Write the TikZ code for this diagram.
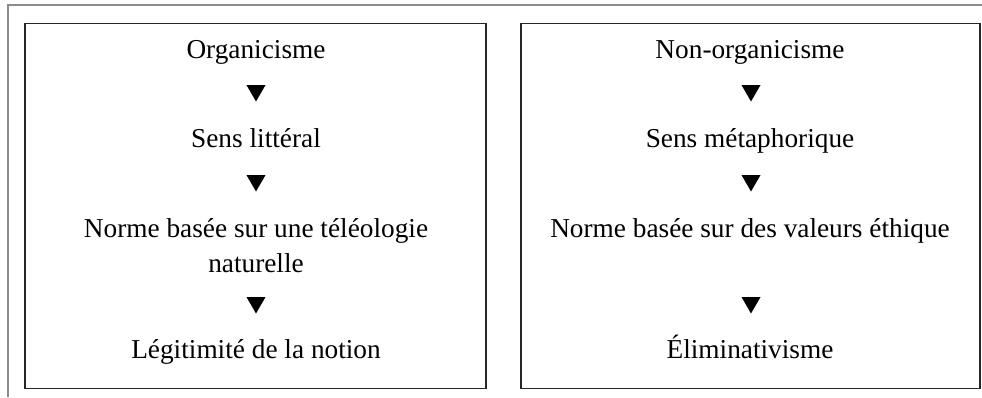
\documentclass[tikz,border=0pt]{standalone}
\usepackage{fontspec}
\setmainfont{Liberation Serif}
\usetikzlibrary{shapes.geometric}
\begin{document}
\begin{tikzpicture}[x=1pt,y=-1pt,
  lbl/.style={anchor=base,inner sep=0pt,font=\fontsize{27.3}{35}\selectfont,align=center},
  tri/.style={regular polygon,regular polygon sides=3,shape border rotate=180,minimum size=22pt,inner sep=0pt,fill=black,draw=none},
  boxline/.style={draw=black!85,line width=1.8pt},
  outer/.style={draw=black!45,line width=1.8pt}]
\useasboundingbox (0,0) rectangle (982,397);
% outer frame lines
\coordinate (oa) at (8,397);
\coordinate (ob) at (8,5);
\coordinate (oc) at (982,5);
\draw[outer] (oa) -- (ob) -- (oc);
% boxes
\node[boxline,minimum width=461pt,minimum height=365pt,inner sep=0pt] (L) at (255.5,206) {};
\node[boxline,minimum width=459pt,minimum height=365pt,inner sep=0pt] (R) at (750.5,206) {};
% left column
\node[lbl] (l1) at (256,58) {Organicisme};
\node[tri] (lt1) at (256,90.5) {};
\node[lbl] (l2) at (256,147) {Sens littéral};
\node[tri] (lt2) at (256,180.5) {};
\node[lbl] (l3) at (256,272) {Norme basée sur une téléologie\\naturelle};
\node[tri] (lt3) at (256,302.5) {};
\node[lbl] (l4) at (256,358) {Légitimité de la notion};
% right column
\node[lbl] (r1) at (750,58) {Non-organicisme};
\node[tri] (rt1) at (751,90.5) {};
\node[lbl] (r2) at (750,147) {Sens métaphorique};
\node[tri] (rt2) at (751,180.5) {};
\node[lbl] (r3) at (750,237) {Norme basée sur des valeurs éthique};
\node[tri] (rt3) at (751,302.5) {};
\node[lbl] (r4) at (750,358) {Éliminativisme};
\end{tikzpicture}
\end{document}
